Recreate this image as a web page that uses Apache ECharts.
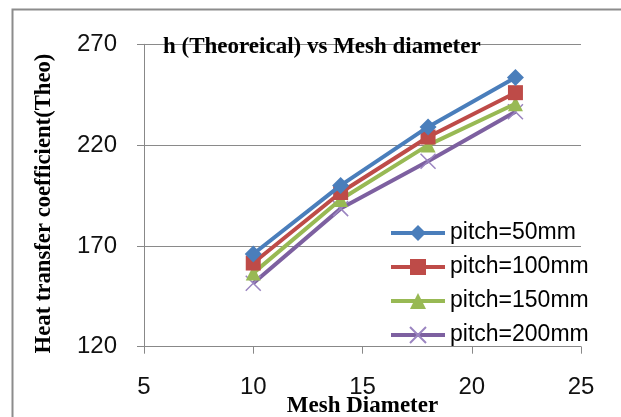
<!DOCTYPE html>
<html>
<head>
<meta charset="utf-8">
<script src="https://cdn.jsdelivr.net/npm/echarts@6/dist/echarts.min.js"></script>
<style>html,body{margin:0;padding:0;background:#fff;}#c{width:621px;height:417px;}</style>
</head>
<body>
<div id="c"></div>
<script>
const meshDiameter = [10, 14, 18, 22];
const pitch50 = [166, 200, 229, 253.5];
const pitch100 = [161.5, 196.5, 224, 246];
const pitch150 = [156.5, 193, 220, 240.5];
const pitch200 = [151.5, 188.5, 212, 236.5];
const seriesNames = ['pitch=50mm', 'pitch=100mm', 'pitch=150mm', 'pitch=200mm'];
const titleText = 'h (Theoreical) vs Mesh diameter';
const xName = 'Mesh Diameter';
const yName = 'Heat transfer coefficient(Theo)';

function pairs(ys) { return meshDiameter.map((x, i) => [x, ys[i]]); }

const colors = ['#4A7EBB', '#BE4B48', '#98B954', '#7D60A0'];
const symbols = ['diamond', 'rect', 'triangle', 'path://M0,0 L10,10 M10,0 L0,10'];
const sizes = [17, 15, 15, 15];
const allData = [pitch50, pitch100, pitch150, pitch200];

const chart = echarts.init(document.getElementById('c'));
chart.setOption({
  animation: false,
  backgroundColor: '#fff',
  graphic: [{
    type: 'rect', left: 10, top: 7, z: -10,
    shape: { width: 640, height: 440 },
    style: { fill: 'none', stroke: '#8c8c8c', lineWidth: 2 }
  }],
  title: {
    text: titleText, left: 158, top: 31,
    textStyle: { fontFamily: 'Liberation Serif', fontSize: 23, fontWeight: 'bold', color: '#000' }
  },
  grid: { left: 144, right: 40, top: 44.3, bottom: 70.3, outerBoundsMode: 'none', containLabel: false },
  legend: {
    orient: 'vertical', left: 384, top: 216,
    itemWidth: 54, itemHeight: 20, itemGap: 10,
    data: seriesNames,
    lineStyle: { width: 4 },
    textStyle: { fontFamily: 'Liberation Sans', fontSize: 23, color: '#000', lineHeight: 24 }
  },
  xAxis: {
    type: 'value', min: 5, max: 25, interval: 5,
    name: xName, nameLocation: 'middle', nameGap: 48, nameMoveOverlap: false,
    nameTextStyle: { fontFamily: 'Liberation Serif', fontSize: 23, fontWeight: 'bold', color: '#000' },
    axisLine: { lineStyle: { color: '#888', width: 1 } },
    axisTick: { show: true, length: 7, lineStyle: { color: '#888' } },
    axisLabel: { margin: 29, fontFamily: 'Liberation Sans', fontSize: 24, color: '#111' },
    splitLine: { show: false }
  },
  yAxis: {
    type: 'value', min: 120, max: 270, interval: 50,
    name: yName, nameLocation: 'middle', nameGap: 88, nameMoveOverlap: false,
    nameTextStyle: { fontFamily: 'Liberation Serif', fontSize: 22.7, fontWeight: 'bold', color: '#000', padding: [0, 16, 0, 0] },
    axisLine: { show: true, lineStyle: { color: '#888', width: 1 } },
    axisTick: { show: true, length: 7, lineStyle: { color: '#888' } },
    axisLabel: { margin: 27, fontFamily: 'Liberation Sans', fontSize: 24, color: '#111' },
    splitLine: { show: true, lineStyle: { color: '#8a8a8a', width: 1 } }
  },
  series: seriesNames.map((name, i) => ({
    name: name,
    type: 'line',
    data: pairs(allData[i]),
    symbol: symbols[i],
    symbolSize: sizes[i],
    showAllSymbol: true,
    lineStyle: { color: colors[i], width: 4 },
    itemStyle: i === 3
      ? { color: '#9a84c0', borderColor: '#9a84c0', borderWidth: 1.5 }
      : { color: colors[i], borderWidth: 0 },
    z: 10 - i
  }))
});
</script>
</body>
</html>
